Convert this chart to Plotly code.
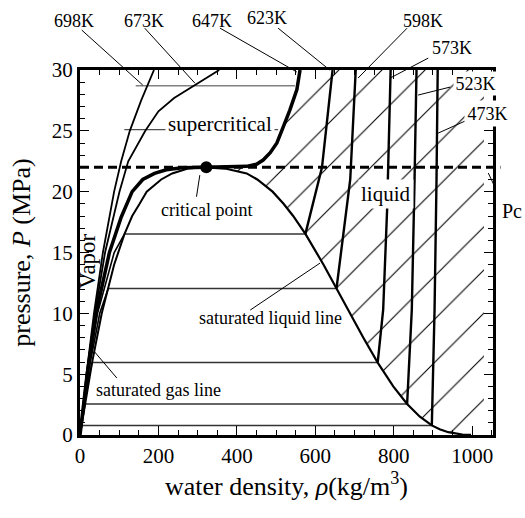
import plotly.graph_objects as go

FONT = "Liberation Serif"
XMAX = 1053
PMAX = 30
PC = 22.0
RHO_C = 322
HATCH_RIGHT = 1030
DASH_END = 1072

# ---- saturation dome (density kg/m3, pressure MPa) ----
sat_gas_rho = [0, 4.2, 12.8, 30.8, 55.5, 72, 87, 113.6, 133, 152, 170, 207, 235, 275, 322]
sat_gas_P = [0, 0.79, 2.55, 5.95, 10, 12.05, 14, 16.53, 18, 19, 20, 21, 21.5, 21.9, 22.0]
sat_liq_rho = [322, 370, 425, 452, 491, 519, 543.5, 574.7, 621, 654, 688, 722.5, 759,
               798.7, 834, 866.6, 897, 917, 939, 958, 975, 988, 997]
sat_liq_P = [22.0, 21.9, 21.5, 21.0, 20, 19, 18, 16.53, 14, 12.05, 10, 8, 5.95,
             4, 2.55, 1.5, 0.79, 0.476, 0.232, 0.101, 0.0386, 0.0123, 0.0032]

# ---- critical isotherm 647K ----
crit_gas_rho = [0, 18.3, 41, 75, 105, 133, 160, 190, 220, 260, 322]
crit_gas_P = [0, 5, 10, 15, 17.9, 20, 21, 21.5, 21.8, 21.97, 22.0]
crit_liq_rho = [322, 370, 425, 450, 467, 485, 502, 518, 535, 553, 561]
crit_liq_P = [22.0, 22.02, 22.08, 22.25, 22.6, 23.2, 24.0, 25.3, 26.7, 28.4, 30]

# ---- supercritical isotherms ----
iso673_rho = [0, 17.3, 37.9, 63.9, 100.6, 123, 166.5, 200, 240, 290, 355]
iso673_P = [0, 5, 10, 15, 20, 22.5, 25, 26.6, 27.7, 28.7, 30]
iso698_rho = [0, 16.5, 35.6, 58.4, 87, 105, 127, 156, 188.6]
iso698_P = [0, 5, 10, 15, 20, 22.5, 25, 27.5, 30]

# ---- subcritical isotherms: vapour branch, liquid branch ----
sub_names = ["623K", "598K", "573K", "523K", "473K"]
sub_gas_rho = [[0, 19.25, 44.6, 87.2, 113.6],
               [0, 20.5, 50.3, 72],
               [0, 13.2, 24.2, 30.8],
               [0, 4.56, 9.66, 12.8],
               [0, 2.6, 4.16]]
sub_gas_P = [[0, 5, 10, 15, 16.53],
             [0, 5, 10, 12.05],
             [0, 3, 5, 5.95],
             [0, 1, 2, 2.55],
             [0, 0.5, 0.79]]
sub_liq_rho = [[574.7, 601, 617, 644],
               [654, 689, 703],
               [759, 773, 783, 792],
               [834, 846, 853, 858],
               [897, 904, 909, 912]]
sub_liq_P = [[16.53, 20, 22, 30],
             [12.05, 21, 30],
             [5.95, 10.3, 18.5, 30],
             [2.55, 10.3, 21, 30],
             [0.79, 10.3, 21, 30]]

# ---- auxiliary horizontal lines (P, rho start, rho end, colour) ----
aux_P = [28.7, 25.1]
aux_rho0 = [142, 113]
aux_rho1 = [548, 505]
aux_col = ["#808080", "#505050"]

# ---- isotherm labels (positions in data units) ----
iso_labels = ["698K", "673K", "647K", "623K", "598K", "573K", "523K", "473K"]
iso_label_x = [-16, 163, 337, 477, 875, 949, 1008, 1038]
iso_label_y = [34.0, 34.0, 34.0, 34.3, 34.0, 31.8, 28.89, 26.46]
iso_label_pad = [None, None, None, None, None, None, 1.5, 2.5]
lead_tail_x = [4.5, 165, 357, 505, 834, 888, 944, 987]
lead_tail_y = [33.28, 33.44, 33.44, 33.44, 33.44, 30.98, 28.6, 25.88]
lead_head_x = [160, 293, 553, 637, 709, 791, 862, 913]
lead_head_y = [28.76, 28.92, 29.83, 29.99, 29.34, 29.34, 27.94, 24.81]

# ---- other texts: text, x, y, size, background, angle ----
texts = [
    ("supercritical", 357, 25.6, 21, "white", 0),
    ("critical point", 323, 18.5, 18, None, 0),
    ("liquid", 780, 19.8, 21, "white", 0),
    ("saturated liquid line", 485, 9.6, 18, None, 0),
    ("saturated gas line", 201, 3.7, 18, None, 0),
    ("Vapor", 17, 14.3, 23, None, -90),
    ("Pc", 1101, 18.4, 20, None, 0),
]
other_leaders = [  # (tail x, tail y, head x, head y)
    (297, 19.58, 305.5, 21.36),
    (434, 10.27, 612, 14.13),
    (94, 4.68, 37, 6.84),
    (1059, 20.3, 1041, 21.53),
]


def px(x):
    return x / XMAX


def py(y):
    return y / PMAX


fig = go.Figure()

# hatched compressed-liquid region
hx = crit_liq_rho[::-1] + sat_liq_rho + [HATCH_RIGHT, HATCH_RIGHT]
hy = crit_liq_P[::-1] + sat_liq_P + [0, PMAX]
fig.add_trace(go.Scatter(
    x=hx, y=hy, mode="lines", line=dict(width=0, color="rgba(0,0,0,0)"),
    fill="toself", fillcolor="rgba(0,0,0,0)",
    fillpattern=dict(shape="/", size=30.5, solidity=0.035, fgcolor="black",
                     bgcolor="rgba(0,0,0,0)", fillmode="replace"),
    hoverinfo="skip", showlegend=False))


def line(x, y, w, col="black"):
    fig.add_trace(go.Scatter(x=x, y=y, mode="lines",
                             line=dict(color=col, width=w),
                             hoverinfo="skip", showlegend=False))


for P, r0, r1, c in zip(aux_P, aux_rho0, aux_rho1, aux_col):
    line([r0, r1], [P, P], 1.4, c)

for gr, gp, lr, lp in zip(sub_gas_rho, sub_gas_P, sub_liq_rho, sub_liq_P):
    line([gr[-1], lr[0]], [gp[-1], lp[0]], 1.5, "#333333")

for gr, gp, lr, lp in zip(sub_gas_rho, sub_gas_P, sub_liq_rho, sub_liq_P):
    line(gr, gp, 1.6)
    line(lr, lp, 2.4)

line(sat_gas_rho, sat_gas_P, 2)
line(sat_liq_rho, sat_liq_P, 2.2)

line(iso698_rho, iso698_P, 1.8)
line(iso673_rho, iso673_P, 1.8)
line(crit_gas_rho + crit_liq_rho[1:], crit_gas_P + crit_liq_P[1:], 3.5)

fig.add_trace(go.Scatter(x=[RHO_C], y=[PC], mode="markers",
                         marker=dict(color="black", size=12),
                         hoverinfo="skip", showlegend=False))

# dashed critical pressure line
fig.add_shape(type="line", xref="paper", yref="paper", x0=0, x1=px(DASH_END),
              y0=py(PC), y1=py(PC), line=dict(color="black", width=3, dash="9px,5px"))

# leader lines
for tx, ty, hx_, hy_ in list(zip(lead_tail_x, lead_tail_y, lead_head_x, lead_head_y)) + other_leaders:
    fig.add_shape(type="line", xref="paper", yref="paper",
                  x0=px(tx), y0=py(ty), x1=px(hx_), y1=py(hy_),
                  line=dict(color="black", width=1))

ann = []
for t, x, y, pad in zip(iso_labels, iso_label_x, iso_label_y, iso_label_pad):
    d = dict(text=t, x=px(x), y=py(y), xref="paper", yref="paper", showarrow=False,
             xanchor="center", yanchor="middle",
             font=dict(family=FONT, size=18, color="black"))
    if pad:
        d.update(bgcolor="white", borderpad=pad)
    ann.append(d)

for t, x, y, s, bg, ang in texts:
    d = dict(text=t, x=px(x), y=py(y), xref="paper", yref="paper", showarrow=False,
             xanchor="center", yanchor="middle",
             textangle=ang, font=dict(family=FONT, size=s, color="black"))
    if bg:
        d.update(bgcolor=bg, borderpad=2)
    ann.append(d)

axis_common = dict(showgrid=False, zeroline=False, showline=True, linewidth=3,
                   linecolor="black", mirror="allticks", ticks="inside",
                   ticklen=9, tickwidth=1, tickcolor="black",
                   tickfont=dict(family=FONT, size=21, color="black"))

fig.update_layout(
    width=525, height=518,
    margin=dict(l=80, r=32, t=70, b=83),
    paper_bgcolor="white", plot_bgcolor="white",
    annotations=ann,
    xaxis=dict(range=[0, XMAX], tickvals=[0, 200, 400, 600, 800, 1000],
               minor=dict(dtick=50, ticks="inside", ticklen=5, tickwidth=1, tickcolor="black"),
               title=dict(text="water density, <i>ρ</i>(kg/m<sup>3</sup>)",
                          font=dict(family=FONT, size=26, color="black"), standoff=10),
               **axis_common),
    yaxis=dict(range=[0, PMAX], tickvals=[0, 5, 10, 15, 20, 25, 30],
               minor=dict(dtick=1, ticks="inside", ticklen=5, tickwidth=1, tickcolor="black"),
               title=dict(text="pressure, <i>P</i> (MPa)",
                          font=dict(family=FONT, size=26, color="black"), standoff=14),
               **axis_common),
)

fig.write_html("out.html")
